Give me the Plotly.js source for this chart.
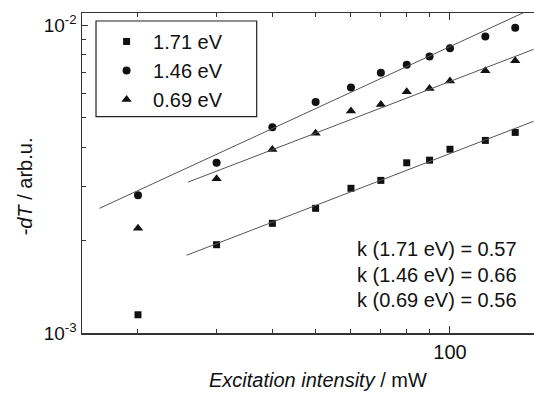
<!DOCTYPE html>
<html>
<head>
<meta charset="utf-8">
<script src="https://cdn.plot.ly/plotly-3.0.1.min.js"></script>
<style>html,body{margin:0;padding:0;background:#fff;}#chart{width:534px;height:395px;}</style>
</head>
<body>
<div id="chart"></div>
<script>
// Excitation intensity (mW)
var intensity = [20, 30, 40, 50, 60, 70, 80, 90, 100, 120, 140];
// -dT (arb.u.) for each probe energy
var dT_171 = [1.146e-3, 1.935e-3, 2.27e-3, 2.54e-3, 2.95e-3, 3.13e-3, 3.57e-3, 3.64e-3, 3.95e-3, 4.22e-3, 4.48e-3];
var dT_146 = [2.80e-3, 3.57e-3, 4.66e-3, 5.62e-3, 6.27e-3, 7.00e-3, 7.43e-3, 7.90e-3, 8.40e-3, 9.17e-3, 9.80e-3];
var dT_069 = [2.19e-3, 3.17e-3, 3.94e-3, 4.45e-3, 5.26e-3, 5.52e-3, 6.07e-3, 6.22e-3, 6.58e-3, 7.10e-3, 7.66e-3];
// Power-law fit lines (end points)
var fit171X = [25.7, 154], fit171Y = [1.788e-3, 4.87e-3];
var fit146X = [16.4, 154], fit146Y = [2.54e-3, 1.136e-2];
var fit069X = [25.9, 154], fit069Y = [3.09e-3, 8.34e-3];
// Labels
var seriesNames = ['1.71 eV', '1.46 eV', '0.69 eV'];
var exponentLabels = ['k (1.71 eV) = 0.57', 'k (1.46 eV) = 0.66', 'k (0.69 eV) = 0.56'];
var xMajorTicks = [100], xMajorText = ['100'];
var xMinorTicks = [20, 30, 40, 50, 60, 70, 80, 90];
var yMajorTicks = [0.001, 0.01], yMajorText = ['10<sup>-3</sup>', '10<sup>-2</sup>'];
var yMinorTicks = [0.002, 0.003, 0.004, 0.005, 0.006, 0.007, 0.008, 0.009];

var FONT = 'Liberation Sans, Arial, sans-serif';
var fitLine = {color: '#555', width: 1};

var traces = [
  {x: intensity, y: dT_171, mode: 'markers', name: seriesNames[0],
   marker: {symbol: 'square', size: 7, color: '#111'}},
  {x: intensity, y: dT_146, mode: 'markers', name: seriesNames[1],
   marker: {symbol: 'circle', size: 8, color: '#111'}},
  {x: intensity, y: dT_069, mode: 'markers', name: seriesNames[2],
   marker: {symbol: 'triangle-up', size: 9, color: '#111'}},
  {x: fit171X, y: fit171Y, mode: 'lines', line: fitLine, showlegend: false},
  {x: fit146X, y: fit146Y, mode: 'lines', line: fitLine, showlegend: false},
  {x: fit069X, y: fit069Y, mode: 'lines', line: fitLine, showlegend: false}
];

var annYs = [0.262, 0.181, 0.103];
var annotations = exponentLabels.map(function (t, i) {
  return {text: t, xref: 'paper', yref: 'paper', x: 0.604, y: annYs[i],
    xanchor: 'left', yanchor: 'middle', showarrow: false,
    font: {family: FONT, size: 20, color: '#111'}};
});
annotations.push({text: '<i>Excitation intensity</i> / mW', xref: 'paper', yref: 'paper',
  x: 0.522, y: -0.147, xanchor: 'center', yanchor: 'middle', showarrow: false,
  font: {family: FONT, size: 20, color: '#111'}});
annotations.push({text: '-<i>dT</i> / arb.u.', xref: 'paper', yref: 'paper',
  x: -0.127, y: 0.457, xanchor: 'center', yanchor: 'middle', textangle: -90, showarrow: false,
  font: {family: FONT, size: 20, color: '#111'}});

var layout = {
  width: 534, height: 395,
  margin: {l: 82, r: 0, t: 13, b: 62, pad: 0},
  paper_bgcolor: '#fff', plot_bgcolor: '#fff',
  font: {family: FONT, size: 20, color: '#111'},
  showlegend: true,
  legend: {x: 0.040, y: 0.972, xanchor: 'left', yanchor: 'top', bgcolor: 'rgba(0,0,0,0)',
    borderwidth: 0, itemwidth: 43, font: {family: FONT, size: 20, color: '#111'}},
  xaxis: {type: 'log', range: [1.1756, 2.1882], showgrid: false, zeroline: false,
    showline: true, linecolor: '#333', linewidth: 1.5, mirror: 'ticks',
    ticks: 'inside', ticklen: 7, tickwidth: 1, tickcolor: '#333',
    tickmode: 'array', tickvals: xMajorTicks, ticktext: xMajorText,
    tickfont: {family: FONT, size: 20, color: '#111'},
    minor: {tickmode: 'array', tickvals: xMinorTicks, ticks: 'inside', ticklen: 4, tickwidth: 1, tickcolor: '#333', showgrid: false}},
  yaxis: {type: 'log', range: [-3, -1.961], showgrid: false, zeroline: false,
    showline: true, linecolor: '#333', linewidth: 1.5, mirror: false,
    ticks: 'inside', ticklen: 6, tickwidth: 1, tickcolor: '#333',
    tickmode: 'array', tickvals: yMajorTicks, ticktext: yMajorText,
    tickfont: {family: FONT, size: 19, color: '#111'},
    minor: {tickmode: 'array', tickvals: yMinorTicks, ticks: 'inside', ticklen: 4, tickwidth: 1, tickcolor: '#333', showgrid: false}},
  shapes: [{type: 'rect', xref: 'paper', yref: 'paper', x0: 0.031, x1: 0.3865, y0: 0.676, y1: 0.975,
    line: {color: '#222', width: 1.2}, fillcolor: 'rgba(0,0,0,0)'}],
  annotations: annotations
};

Plotly.newPlot('chart', traces, layout, {staticPlot: true, displayModeBar: false});
</script>
</body>
</html>
